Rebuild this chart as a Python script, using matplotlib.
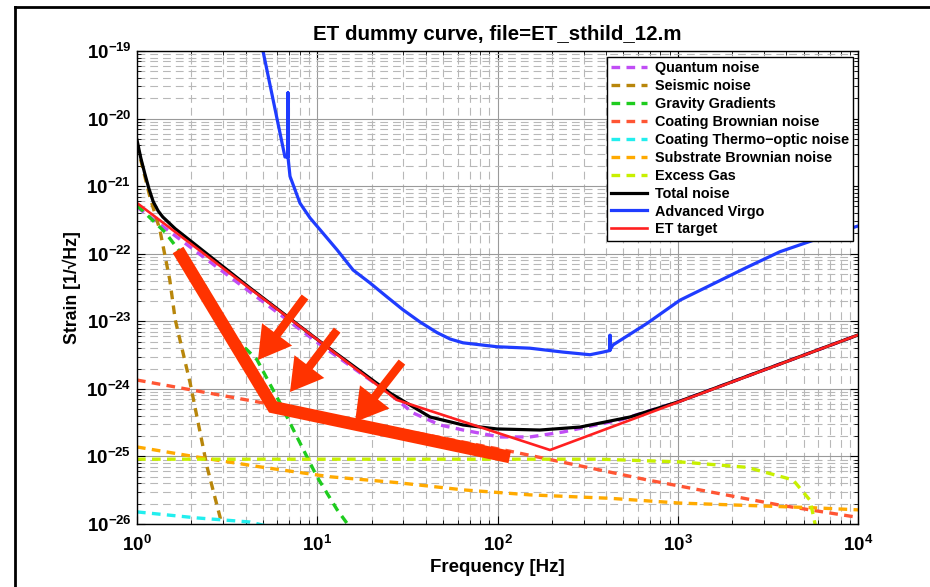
import numpy as np
import matplotlib
matplotlib.use("Agg")
from matplotlib import pyplot as plt
from matplotlib.lines import Line2D
from matplotlib.ticker import LogLocator, FuncFormatter, NullFormatter

plt.rcParams['font.family'] = 'Liberation Sans'
plt.rcParams['font.weight'] = 'bold'
plt.rcParams['mathtext.fontset'] = 'custom'
plt.rcParams['mathtext.rm'] = 'Liberation Sans:bold'
plt.rcParams['mathtext.bf'] = 'Liberation Sans:bold'
plt.rcParams['mathtext.it'] = 'Liberation Sans:bold'

# noise curves
f_quantum = [1, 4.24, 10.1, 25.3, 34, 48, 64.4, 103, 151, 231, 478, 1000, 1e4]
h_quantum = [4.9e-22, 2.71e-23, 4.77e-24, 8.4e-25, 4.4e-25, 2.92e-25, 2.46e-25,
             1.94e-25, 1.94e-25, 2.3e-25, 3.46e-25, 6.4e-25, 6.27e-24]

f_seismic = [1, 1.18, 1.34, 1.52, 1.63, 1.97, 2.45, 2.89, 3.0]
h_seismic = [4.1e-21, 6.9e-22, 2.24e-22, 4.1e-23, 1.05e-23, 1.23e-24, 6.9e-26, 1.26e-26, 8e-27]

f_gg = [1, 1.43, 2.32, 3.28, 4.63, 6.21, 7.72, 9.97, 12.9, 15.6]
h_gg = [5.2e-22, 2.09e-22, 3.8e-23, 6.7e-24, 2.7e-24, 6.2e-25, 1.94e-25, 5.0e-26, 1.62e-26, 8.1e-27]

f_coat_br = [1, 5.0, 122, 675, 3690, 9870, 1e4]
h_coat_br = [1.35e-24, 6.2e-25, 1.17e-25, 4.5e-26, 1.9e-26, 1.26e-26, 1.25e-26]

f_coat_to = [1, 2.15, 4.24, 5.83]
h_coat_to = [1.51e-26, 1.23e-26, 1.07e-26, 8.7e-27]

f_subs_br = [1, 2.15, 5.0, 11.8, 27.7, 64.4, 151, 421, 1028, 5630, 1e4]
h_subs_br = [1.38e-25, 9.8e-26, 6.9e-26, 5.0e-26, 4.1e-26, 3.2e-26, 2.7e-26, 2.4e-26,
             2.04e-26, 1.74e-26, 1.62e-26]

f_gas = [1, 370, 1028, 2422, 4360, 5420, 5770, 6000]
h_gas = [9.1e-26, 9.1e-26, 8.3e-26, 6.9e-26, 4.5e-26, 2.24e-26, 1.02e-26, 6.9e-27]

f_total = [1, 1.05, 1.1, 1.16, 1.23, 1.31, 1.39, 1.63, 4.24, 10.1, 17.9, 25.3, 42.3,
           64.4, 99.4, 172, 287, 543, 1000, 1e4]
h_total = [4.8e-21, 2.6e-21, 1.6e-21, 9.5e-22, 5.9e-22, 4.3e-22, 3.5e-22, 2.34e-22,
           3.11e-23, 5.28e-24, 1.72e-24, 8.7e-25, 3.83e-25, 2.92e-25, 2.55e-25,
           2.46e-25, 2.72e-25, 3.83e-25, 6.4e-25, 6.27e-24]

f_virgo = [5.0, 6.62, 6.88, 6.88, 6.88, 7.06, 8.02, 9.12, 10.4, 12.9, 15.8, 19.6, 24.4,
           29.9, 37.2, 46.2, 54.5, 64.4, 99.4, 151, 231, 326, 385, 421, 421, 421, 437,
           675, 1028, 2422, 3690, 6150, 1e4]
h_virgo = [1e-19, 2.7e-21, 2.7e-21, 2.4e-20, 2.7e-21, 1.4e-21, 5.6e-22, 3.38e-22,
           2.24e-22, 1.135e-22, 5.74e-23, 3.7e-23, 2.29e-23, 1.48e-23, 9.75e-24, 6.8e-24,
           5.47e-24, 4.8e-24, 4.2e-24, 4.0e-24, 3.5e-24, 3.2e-24, 3.5e-24, 3.7e-24,
           6.2e-24, 3.8e-24, 4.46e-24, 9.3e-24, 2.05e-23, 6.3e-23, 1.07e-22, 1.71e-22, 2.57e-22]

f_et = [1, 27.7, 195.6, 1e4]
h_et = [5.63e-22, 6.84e-25, 1.245e-25, 6.27e-24]

# hand-drawn highlight on top of the plot
f_mark = [1.69, 5.68, 117]
h_mark = [1.135e-22, 5.38e-25, 9.8e-26]
arrow_tail = [(8.55, 2.29e-23), (12.9, 7.4e-24), (29.5, 2.49e-24)]
arrow_tip = [(4.69, 2.67e-24), (7.06, 8.98e-25), (16.2, 3.23e-25)]

fig = plt.figure(figsize=(9.3, 5.87), dpi=100)
ax = fig.add_axes([137/930, 1-524/587, 721/930, 473/587])

dash = (0, (2.6, 1.9))
lw_n = 2.4
ax.loglog(f_quantum, h_quantum, color='#c04df5', lw=lw_n, ls=dash, label='Quantum noise')
ax.loglog(f_seismic, h_seismic, color='#b8860b', lw=lw_n, ls=dash, label='Seismic noise')
ax.loglog(f_gg, h_gg, color='#1ecc1e', lw=lw_n, ls=dash, label='Gravity Gradients')
ax.loglog(f_coat_br, h_coat_br, color='#ff5533', lw=lw_n, ls=dash, label='Coating Brownian noise')
ax.loglog(f_coat_to, h_coat_to, color='#22eeee', lw=lw_n, ls=dash, label='Coating Thermo\u2212optic noise')
ax.loglog(f_subs_br, h_subs_br, color='#ffaa00', lw=lw_n, ls=dash, label='Substrate Brownian noise')
ax.loglog(f_gas, h_gas, color='#c8f000', lw=lw_n, ls=dash, label='Excess Gas')
ax.loglog(f_total, h_total, color='black', lw=2.3, label='Total noise')
ax.loglog(f_virgo, h_virgo, color='#1f3cff', lw=2.3, label='Advanced Virgo')
ax.loglog(f_et, h_et, color='#ff2020', lw=1.9, label='ET target')

ax.loglog(f_mark, h_mark, color='#ff3300', lw=9, solid_joinstyle='miter',
          solid_capstyle='butt', zorder=6)
for tail, tip in zip(arrow_tail, arrow_tip):
    ax.annotate('', xy=tip, xytext=tail, zorder=7,
                arrowprops=dict(arrowstyle='simple,head_length=23,head_width=27,tail_width=6',
                                mutation_scale=1, color='#ff3300', lw=0,
                                shrinkA=0, shrinkB=0))

ax.set_xlim(1, 1e4)
ax.set_ylim(1e-26, 1e-19)
ax.xaxis.set_major_locator(LogLocator(base=10, numticks=10))
ax.yaxis.set_major_locator(LogLocator(base=10, numticks=10))
ax.xaxis.set_minor_locator(LogLocator(base=10, subs=np.arange(2, 10), numticks=20))
ax.yaxis.set_minor_locator(LogLocator(base=10, subs=np.arange(2, 10), numticks=20))


def decade_label(lo, hi):
    def f(v, p):
        if v < lo * 0.99 or v > hi * 1.01:
            return ''
        return r'$\mathrm{10^{%d}}$' % round(np.log10(v))
    return FuncFormatter(f)


ax.xaxis.set_major_formatter(decade_label(1, 1e4))
ax.yaxis.set_major_formatter(decade_label(1e-26, 1e-19))
ax.xaxis.set_minor_formatter(NullFormatter())
ax.yaxis.set_minor_formatter(NullFormatter())
ax.tick_params(which='both', direction='in', top=True, right=True, labelsize=13.5)
ax.tick_params(which='major', length=6, width=0.8)
ax.tick_params(which='minor', length=3, width=0.6)
ax.tick_params(axis='x', pad=8)
ax.tick_params(axis='y', pad=4)
ax.grid(True, which='major', color='#9a9a9a', lw=0.8, ls='-')
ax.grid(True, which='minor', color='#b8b8b8', lw=0.8, ls=(0, (7, 4.5)))
ax.set_axisbelow(True)
for s in ax.spines.values():
    s.set_linewidth(1.0)

ax.set_title('ET dummy curve, file=ET_sthild_12.m', fontsize=14.8, fontweight='bold', pad=8)
ax.set_xlabel('Frequency [Hz]', fontsize=13.5, fontweight='bold', labelpad=3)
ax.set_ylabel('Strain [1/\u221aHz]', fontsize=12.7, fontweight='bold', labelpad=4)

leg = ax.legend(loc='upper right', bbox_to_anchor=(0.9931, 0.9873), borderaxespad=0,
                fontsize=10.4, frameon=True, fancybox=False, framealpha=1,
                edgecolor='black', handlelength=2.5, labelspacing=0.27,
                borderpad=0.3, handletextpad=0.5)
leg.get_frame().set_linewidth(1.0)
leg.set_zorder(10)

# page frame
fig.add_artist(Line2D([15/930, 15/930], [0, 1-7/587], color='black', lw=2))
fig.add_artist(Line2D([15/930, 1], [1-7/587, 1-7/587], color='black', lw=2))

fig.savefig('out.png', dpi=100)
